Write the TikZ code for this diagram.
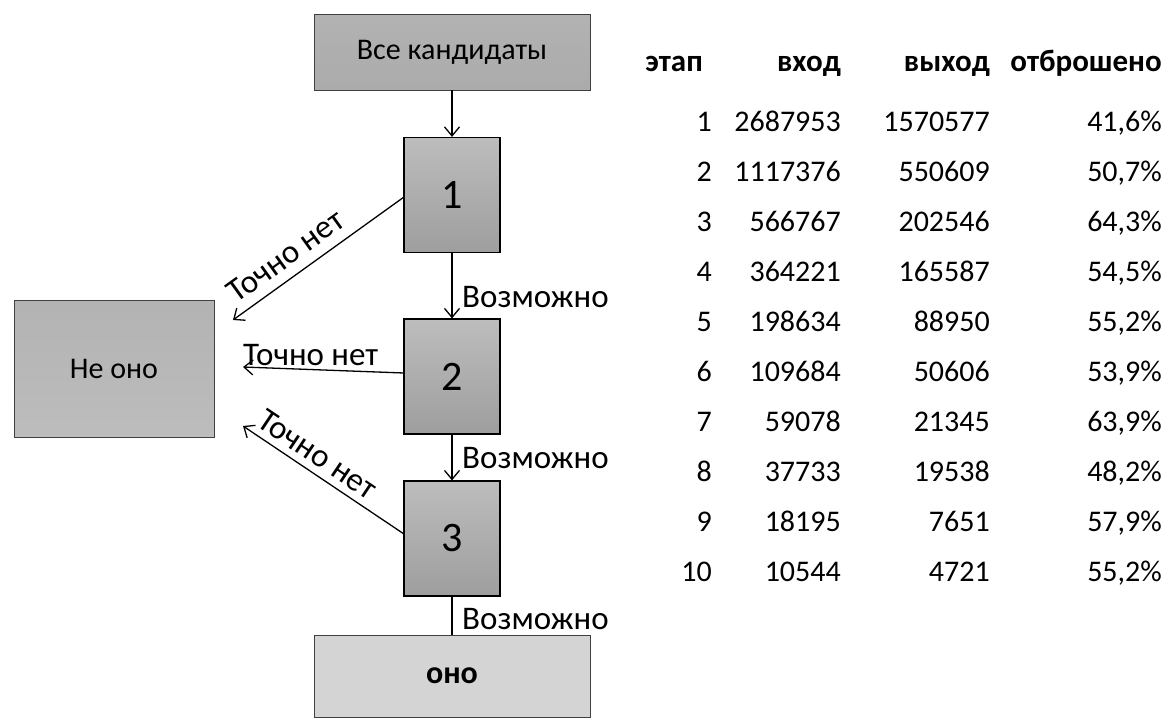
\documentclass[tikz,border=0pt]{standalone}
\usepackage{fontspec}
\setmainfont{Carlito}
\usetikzlibrary{arrows.meta}
\definecolor{stTop}{gray}{0.74}
\definecolor{stBot}{gray}{0.62}
\definecolor{bigTop}{gray}{0.70}
\definecolor{bigBot}{gray}{0.67}
\definecolor{noTop}{gray}{0.70}
\definecolor{noBot}{gray}{0.74}
\definecolor{yesFill}{gray}{0.83}
\begin{document}
\begin{tikzpicture}[x=1pt,y=-1pt,
  lbl/.style={font=\fontsize{33}{40}\selectfont, inner sep=0pt},
  stage/.style={draw=black, line width=1.2pt, top color=stTop, bottom color=stBot,
     minimum width=96pt, minimum height=115pt, inner sep=0pt, font=\fontsize{42}{48}\selectfont},
  bigbox/.style={draw=gray!50!black, line width=0.8pt, top color=bigTop, bottom color=bigBot,
     minimum width=276pt, inner sep=0pt, font=\fontsize{30}{36}\selectfont},
  flow/.style={line width=1.3pt, -{Straight Barb[length=9pt,width=15pt,line width=1.3pt]}},
  th/.style={font=\bfseries\fontsize{31}{37}\selectfont, anchor=base east, inner sep=0pt},
  td/.style={font=\fontsize{30}{36}\selectfont, anchor=base east, inner sep=0pt}
]
\useasboundingbox (0,0) rectangle (1171,718);

% boxes
\node[bigbox, minimum height=76pt] (top) at (452,52) {Все кандидаты};
\node[stage] (s1) at (452,195) {1};
\node[stage] (s2) at (452,376.5) {2};
\node[stage] (s3) at (452,538.5) {3};
\node[bigbox, minimum height=82pt, top color=yesFill, bottom color=yesFill,
      font=\bfseries\fontsize{32}{38}\selectfont] (yes) at (452,676) {оно};
\node[draw=gray!50!black, line width=0.8pt, top color=noTop, bottom color=noBot,
      minimum width=200pt, minimum height=137pt, inner sep=0pt,
      font=\fontsize{30}{36}\selectfont] (no) at (114,368.5) {Не оно};

% end points near "Не оно"
\coordinate (n1) at (233,320);
\coordinate (n2) at (243,367);
\coordinate (n3) at (243,426);
\coordinate (s1w) at (404,197);
\coordinate (s2w) at (404,373);
\coordinate (s3w) at (404,534);

% vertical flow
\draw[flow] (top.south) -- (s1.north);
\draw[flow] (s1.south) -- (s2.north);
\draw[flow] (s2.south) -- (s3.north);
\draw[line width=1.3pt] (s3.south) -- (yes.north);
\node[lbl, anchor=west] (p1) at (462,297) {Возможно};
\node[lbl, anchor=west] (p2) at (462,458) {Возможно};
\node[lbl, anchor=west] (p3) at (462,619) {Возможно};

% rejects
\draw[flow] (s1w) -- node[lbl, sloped, above=10pt, pos=0.62] (r1) {Точно нет} (n1);
\draw[flow] (s2w) -- node[lbl, above=3pt, pos=0.58] (r2) {Точно нет} (n2);
\draw[flow] (s3w) -- node[lbl, sloped, above=7pt, pos=0.6] (r3) {Точно нет} (n3);

% table
\node[th] (h1) at (703,71) {этап};
\node[th] (h2) at (841,71) {вход};
\node[th] (h3) at (990,71) {выход};
\node[th] (h4) at (1162,71) {отброшено};
\foreach \i/\a/\b/\c [count=\k from 0] in {
 1/2687953/1570577/{41,6\%},
 2/1117376/550609/{50,7\%},
 3/566767/202546/{64,3\%},
 4/364221/165587/{54,5\%},
 5/198634/88950/{55,2\%},
 6/109684/50606/{53,9\%},
 7/59078/21345/{63,9\%},
 8/37733/19538/{48,2\%},
 9/18195/7651/{57,9\%},
 10/10544/4721/{55,2\%}} {
  \node[td] (c1r\k) at (712,131.5+50*\k) {\i};
  \node[td] (c2r\k) at (841,131.5+50*\k) {\a};
  \node[td] (c3r\k) at (990,131.5+50*\k) {\b};
  \node[td] (c4r\k) at (1162,131.5+50*\k) {\c};
}
\end{tikzpicture}
\end{document}
